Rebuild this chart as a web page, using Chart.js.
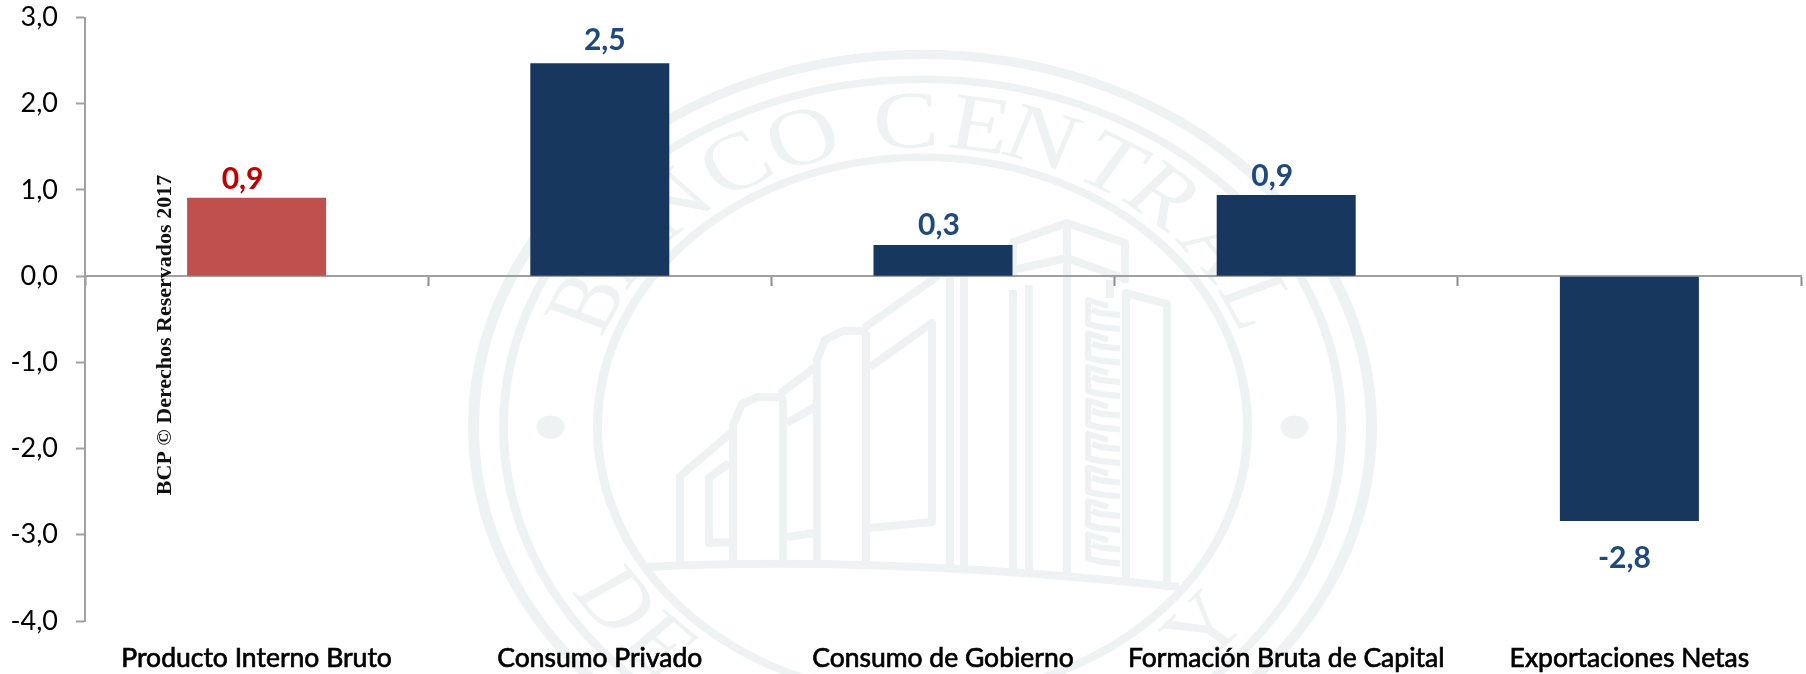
<!DOCTYPE html>
<html>
<head>
<meta charset="utf-8">
<script src="https://cdn.jsdelivr.net/npm/chart.js@4/dist/chart.umd.min.js"></script>
<style>
  body { margin: 0; background: #fff; }
  canvas { display: block; }
</style>
</head>
<body>
<canvas id="bar-chart" width="1806" height="674"></canvas>
<script>
const categories = ["Producto Interno Bruto", "Consumo Privado", "Consumo de Gobierno", "Formación Bruta de Capital", "Exportaciones Netas"];
const values = [0.91, 2.47, 0.36, 0.94, -2.84];
const valueLabels = ["0,9", "2,5", "0,3", "0,9", "-2,8"];
const barColors = ["#C0504D", "#17375E", "#17375E", "#17375E", "#17375E"];
const labelColors = ["#C00000", "#1F497D", "#1F497D", "#1F497D", "#1F497D"];
const yMin = -4;
const yMax = 3;

// the label boxes sit a bit off centre in the original
const labelShiftX = [-14, 5, -4, -14, -5];
const labelShiftY = [-18, -23, -20, -19, 37];

const markColor = "#EEF2F3";
const sealX = 922.5;
const sealY = 427;

function polyline(ctx, pts) {
  ctx.beginPath();
  ctx.moveTo(pts[0][0], pts[0][1]);
  for (let i = 1; i < pts.length; i++) ctx.lineTo(pts[i][0], pts[i][1]);
  ctx.stroke();
}

function arcLetters(ctx, letters, angles, radius, bottom) {
  letters.forEach((ch, i) => {
    ctx.save();
    ctx.rotate(angles[i] * Math.PI / 180);
    ctx.fillText(ch, 0, bottom ? radius : -radius);
    ctx.restore();
  });
}

// background seal, drawn before the chart
const watermark = {
  id: "watermark",
  beforeDraw(chart) {
    const ctx = chart.ctx;
    ctx.save();
    ctx.strokeStyle = markColor;
    ctx.fillStyle = markColor;
    ctx.lineJoin = "round";

    ctx.save();
    ctx.translate(sealX, sealY);
    ctx.scale(1, 0.83);
    [[449, 11], [419, 9], [325, 9]].forEach(r => {
      ctx.lineWidth = r[1];
      ctx.beginPath();
      ctx.arc(0, 0, r[0], 0, Math.PI * 2);
      ctx.stroke();
    });
    [-1, 1].forEach(s => {
      ctx.beginPath();
      ctx.arc(s * 372, 0, 14, 0, Math.PI * 2);
      ctx.fill();
    });
    ctx.font = "98px 'Liberation Serif'";
    ctx.textAlign = "center";
    ctx.textBaseline = "alphabetic";
    arcLetters(ctx, "BANCOCENTRAL".split(""), [-66, -55, -43, -30.5, -19, -2.6, 9, 19, 31, 41, 54, 65.6], 337, false);
    arcLetters(ctx, ["D", "E", "Y"], [55.6, 45, -49.5], 402, true);
    ctx.restore();

    ctx.lineWidth = 8;
    // ground line
    ctx.beginPath();
    ctx.moveTo(645, 567);
    ctx.quadraticCurveTo(880, 555, 1179, 587);
    ctx.stroke();
    const lines = [
      [[680, 563], [680, 476], [731, 433]],
      [[733, 563], [733, 425], [742, 404], [758, 397], [780, 397], [783, 400], [783, 563]],
      [[780, 394], [815, 367]],
      [[817, 563], [817, 360], [825, 340], [843, 331], [863, 331], [866, 335], [866, 563]],
      [[864, 328], [938, 276]],
      [[870, 367], [932, 323], [932, 522], [870, 528]],
      [[787, 423], [815, 407]],
      [[787, 537], [815, 533]],
      [[729, 463], [709, 478], [709, 543], [729, 542]],
      [[950, 276], [950, 567]],
      [[964, 276], [964, 568]],
      [[1013, 276], [1013, 242], [1067, 223], [1125, 243], [1125, 283]],
      [[1013, 270], [1067, 258], [1123, 278]],
      [[1013, 290], [1013, 572]],
      [[1029, 285], [1029, 574]],
      [[1067, 223], [1067, 578]],
      [[1110, 280], [1110, 298]],
      [[1126, 580], [1126, 293], [1167, 304], [1167, 584]]
    ];
    lines.forEach(p => polyline(ctx, p));
    ctx.lineWidth = 6;
    for (let i = 0; i < 8; i++) {
      const t = 300 + i * 33.5;
      polyline(ctx, [[1108, t + 6], [1088, t], [1088, t + 24], [1100, t + 27], [1120, t + 29]]);
      polyline(ctx, [[1092, t + 10], [1100, t + 13], [1120, t + 15]]);
    }
    ctx.restore();
  }
};

// value labels and the vertical copyright line
const overlays = {
  id: "overlays",
  afterDraw(chart) {
    const ctx = chart.ctx;
    const bars = chart.getDatasetMeta(0).data;
    ctx.save();
    ctx.font = "bold 30px Lato";
    ctx.textAlign = "center";
    ctx.textBaseline = "middle";
    bars.forEach((bar, i) => {
      ctx.fillStyle = labelColors[i];
      ctx.fillText(valueLabels[i], bar.x + labelShiftX[i], bar.y + labelShiftY[i]);
    });
    ctx.translate(165, 335);
    ctx.rotate(-Math.PI / 2);
    ctx.font = "bold 22px 'Liberation Serif'";
    ctx.fillStyle = "#111";
    ctx.fillText("BCP © Derechos Reservados 2017", 0, 0);
    ctx.restore();
  }
};

new Chart(document.getElementById("bar-chart"), {
  type: "bar",
  data: {
    labels: categories,
    datasets: [{
      data: values,
      backgroundColor: barColors,
      barPercentage: 1,
      categoryPercentage: 0.405,
      xAxisID: "x",
      yAxisID: "y"
    }]
  },
  options: {
    responsive: false,
    animation: false,
    layout: { padding: { top: 17.5, right: 5, left: 0, bottom: 0 } },
    plugins: { legend: { display: false }, tooltip: { enabled: false } },
    scales: {
      x: {
        position: "bottom",
        grid: { display: false },
        border: { display: false },
        afterFit: s => { s.height = 53; },
        ticks: {
          color: "#000",
          font: { family: "Lato", size: 26.5 },
          textStrokeColor: "#000",
          textStrokeWidth: 0.7,
          padding: 14,
          maxRotation: 0,
          autoSkip: false
        }
      },
      zero: {
        axis: "x",
        type: "category",
        labels: categories,
        position: { y: 0 },
        offset: true,
        z: 1,
        ticks: { display: false },
        border: { display: true, color: "#A0A0A0", width: 2 },
        grid: { offset: true, drawOnChartArea: false, drawTicks: true, tickLength: 9, tickColor: "#8C8C8C", tickWidth: 2 }
      },
      y: {
        min: yMin,
        max: yMax,
        afterFit: s => { s.width = 85; s.paddingTop = 0; s.paddingBottom = 0; },
        border: { display: true, color: "#A0A0A0", width: 2 },
        grid: { drawOnChartArea: false, drawTicks: true, tickLength: 9, color: "#A0A0A0", tickWidth: 2 },
        ticks: {
          stepSize: 1,
          color: "#000",
          padding: 18,
          font: { family: "Lato", size: 27 },
          callback: v => v.toFixed(1).replace(".", ",")
        }
      }
    }
  },
  plugins: [watermark, overlays]
});
</script>
</body>
</html>
